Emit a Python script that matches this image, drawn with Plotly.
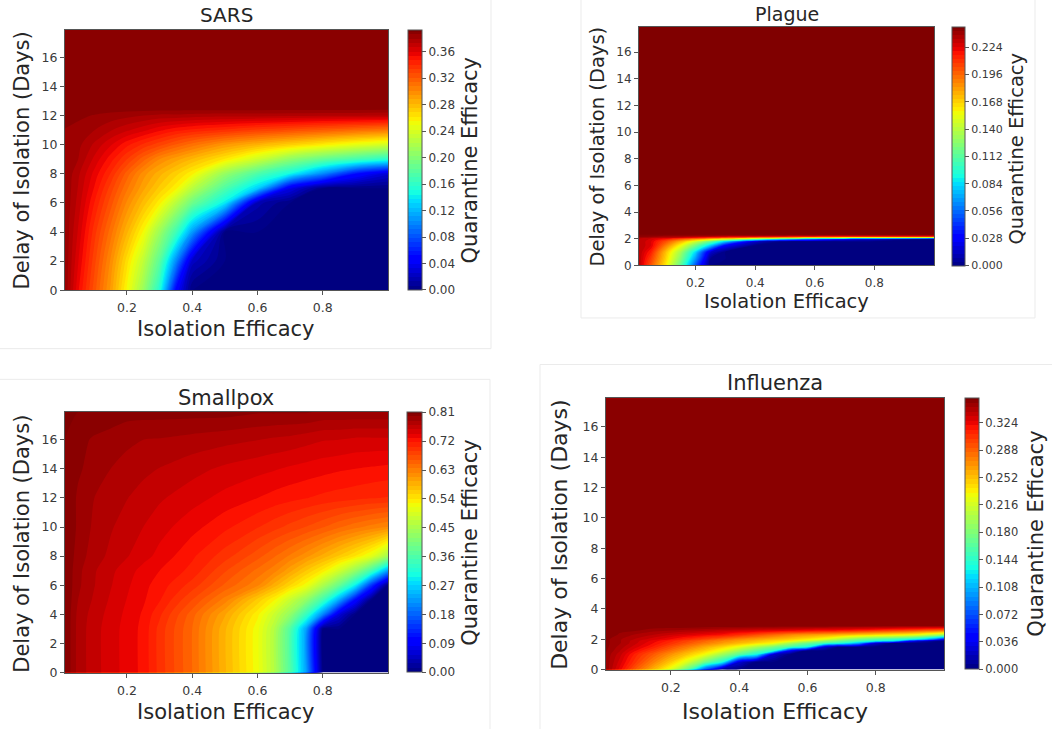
import plotly.graph_objects as go

W, H = 1052, 736

# ------------------------------------------------------------------ data
# Isolation efficacy (x) / delay of isolation in days (y) / quarantine efficacy (z)
sars_x = [0.01, 0.05, 0.1, 0.15, 0.2, 0.25, 0.3, 0.35, 0.4, 0.5, 0.6, 0.7, 0.8, 0.9, 1.0]
sars_y = [0, 2, 4, 6, 7, 8, 9, 10, 11, 12, 12.5, 14, 16, 17.9]
sars_z = [
    [0.386, 0.355, 0.324, 0.293, 0.254, 0.211, 0.154, 0.047, 0, 0, 0, 0, 0, 0, 0],
    [0.386, 0.361, 0.330, 0.300, 0.265, 0.229, 0.181, 0.103, 0.023, 0, 0, 0, 0, 0, 0],
    [0.386, 0.366, 0.337, 0.311, 0.283, 0.254, 0.212, 0.168, 0.109, 0, 0, 0, 0, 0, 0],
    [0.386, 0.371, 0.347, 0.324, 0.300, 0.279, 0.258, 0.225, 0.190, 0.140, 0.016, 0, 0, 0, 0],
    [0.386, 0.373, 0.353, 0.331, 0.309, 0.290, 0.273, 0.257, 0.226, 0.175, 0.129, 0.035, 0, 0, 0],
    [0.386, 0.375, 0.358, 0.340, 0.318, 0.298, 0.284, 0.271, 0.257, 0.209, 0.174, 0.145, 0.101, 0.053, 0.028],
    [0.386, 0.380, 0.365, 0.350, 0.334, 0.317, 0.301, 0.291, 0.281, 0.261, 0.235, 0.205, 0.185, 0.170, 0.156],
    [0.386, 0.382, 0.372, 0.361, 0.349, 0.339, 0.330, 0.320, 0.311, 0.295, 0.283, 0.271, 0.259, 0.247, 0.237],
    [0.386, 0.384, 0.380, 0.374, 0.368, 0.362, 0.355, 0.349, 0.345, 0.339, 0.332, 0.326, 0.320, 0.313, 0.307],
    [0.390, 0.388, 0.386, 0.384, 0.382, 0.380, 0.378, 0.378, 0.377, 0.376, 0.376, 0.375, 0.374, 0.374, 0.373],
    [0.39, 0.39, 0.39, 0.39, 0.39, 0.39, 0.39, 0.39, 0.39, 0.39, 0.39, 0.39, 0.39, 0.39, 0.39],
    [0.39, 0.39, 0.39, 0.39, 0.39, 0.39, 0.39, 0.39, 0.39, 0.39, 0.39, 0.39, 0.39, 0.39, 0.39],
    [0.39, 0.39, 0.39, 0.39, 0.39, 0.39, 0.39, 0.39, 0.39, 0.39, 0.39, 0.39, 0.39, 0.39, 0.39],
    [0.39, 0.39, 0.39, 0.39, 0.39, 0.39, 0.39, 0.39, 0.39, 0.39, 0.39, 0.39, 0.39, 0.39, 0.39],
]
sars_ticks = [0.00, 0.04, 0.08, 0.12, 0.16, 0.20, 0.24, 0.28, 0.32, 0.36]

plague_x = [0.01, 0.05, 0.1, 0.15, 0.2, 0.25, 0.3, 0.4, 0.5, 0.6, 0.8, 1.0]
plague_y = [0, 0.5, 1, 1.5, 1.8, 2.0, 2.1, 2.2, 2.3, 17.9]
plague_z = [
    [0.233, 0.201, 0.162, 0.113, 0.050, 0, 0, 0, 0, 0, 0, 0],
    [0.233, 0.208, 0.168, 0.124, 0.067, 0.003, 0, 0, 0, 0, 0, 0],
    [0.233, 0.216, 0.173, 0.134, 0.083, 0.017, 0, 0, 0, 0, 0, 0],
    [0.233, 0.225, 0.191, 0.157, 0.120, 0.080, 0.028, 0, 0, 0, 0, 0],
    [0.233, 0.225, 0.203, 0.177, 0.147, 0.116, 0.080, 0.016, 0, 0, 0, 0],
    [0.233, 0.228, 0.218, 0.203, 0.189, 0.174, 0.159, 0.123, 0.088, 0.059, 0.020, 0],
    [0.238, 0.235, 0.233, 0.228, 0.221, 0.213, 0.206, 0.191, 0.176, 0.162, 0.147, 0.135],
    [0.243, 0.243, 0.240, 0.240, 0.238, 0.238, 0.235, 0.233, 0.230, 0.228, 0.225, 0.223],
    [0.245, 0.245, 0.245, 0.245, 0.245, 0.245, 0.245, 0.245, 0.245, 0.245, 0.245, 0.245],
    [0.245, 0.245, 0.245, 0.245, 0.245, 0.245, 0.245, 0.245, 0.245, 0.245, 0.245, 0.245],
]
plague_ticks = [0.000, 0.028, 0.056, 0.084, 0.112, 0.140, 0.168, 0.196, 0.224]

smallpox_x = [0.01, 0.05, 0.1, 0.15, 0.2, 0.25, 0.3, 0.4, 0.5, 0.6, 0.65, 0.7, 0.75, 0.8, 0.85, 0.9, 0.95, 1.0]
smallpox_y = [0, 3, 4, 5, 6, 7, 8, 10, 12, 14, 16, 17.9]
smallpox_z = [
    [0.81, 0.778, 0.761, 0.749, 0.737, 0.725, 0.697, 0.648, 0.583, 0.518, 0.462, 0.365, 0.227, 0, 0, 0, 0, 0],
    [0.81, 0.778, 0.761, 0.749, 0.737, 0.725, 0.697, 0.648, 0.583, 0.518, 0.462, 0.365, 0.227, 0, 0, 0, 0, 0],
    [0.81, 0.779, 0.763, 0.751, 0.739, 0.727, 0.705, 0.654, 0.596, 0.531, 0.484, 0.428, 0.337, 0.210, 0.063, 0, 0, 0],
    [0.81, 0.783, 0.767, 0.754, 0.742, 0.731, 0.717, 0.675, 0.629, 0.563, 0.529, 0.480, 0.427, 0.348, 0.237, 0.103, 0, 0],
    [0.81, 0.786, 0.770, 0.757, 0.745, 0.733, 0.723, 0.696, 0.659, 0.624, 0.589, 0.553, 0.518, 0.455, 0.386, 0.292, 0.138, 0],
    [0.81, 0.787, 0.771, 0.759, 0.749, 0.737, 0.729, 0.711, 0.677, 0.644, 0.627, 0.598, 0.566, 0.535, 0.488, 0.429, 0.348, 0.227],
    [0.81, 0.790, 0.776, 0.766, 0.757, 0.748, 0.738, 0.718, 0.695, 0.667, 0.650, 0.632, 0.612, 0.589, 0.565, 0.539, 0.506, 0.443],
    [0.81, 0.794, 0.780, 0.771, 0.763, 0.756, 0.748, 0.734, 0.719, 0.703, 0.694, 0.684, 0.674, 0.663, 0.650, 0.639, 0.629, 0.620],
    [0.81, 0.794, 0.783, 0.776, 0.770, 0.764, 0.758, 0.748, 0.738, 0.729, 0.724, 0.720, 0.716, 0.712, 0.709, 0.706, 0.703, 0.701],
    [0.81, 0.799, 0.790, 0.783, 0.778, 0.773, 0.769, 0.761, 0.753, 0.747, 0.744, 0.740, 0.737, 0.734, 0.731, 0.729, 0.727, 0.725],
    [0.81, 0.802, 0.794, 0.790, 0.786, 0.783, 0.782, 0.778, 0.774, 0.770, 0.767, 0.765, 0.761, 0.757, 0.756, 0.753, 0.753, 0.753],
    [0.81, 0.81, 0.81, 0.806, 0.802, 0.802, 0.802, 0.802, 0.802, 0.798, 0.798, 0.798, 0.798, 0.794, 0.794, 0.794, 0.794, 0.794],
]
smallpox_ticks = [0.00, 0.09, 0.18, 0.27, 0.36, 0.45, 0.54, 0.63, 0.72, 0.81]

flu_x = [0.01, 0.05, 0.1, 0.15, 0.2, 0.25, 0.3, 0.35, 0.4, 0.45, 0.5, 0.55, 0.6, 0.65, 0.7, 0.75,
         0.8, 0.85, 0.9, 0.95, 1.0]
flu_y = [0, 0.5, 1, 1.25, 1.5, 1.75, 1.9, 2, 2.3, 2.6, 2.9, 17.9]
flu_z = [
    [0.349, 0.324, 0.288, 0.256, 0.221, 0.166, 0.071, 0, 0, 0, 0, 0, 0, 0, 0, 0, 0, 0, 0, 0, 0],
    [0.349, 0.330, 0.302, 0.275, 0.248, 0.217, 0.174, 0.136, 0.026, 0, 0, 0, 0, 0, 0, 0, 0, 0, 0, 0, 0],
    [0.349, 0.335, 0.310, 0.290, 0.269, 0.249, 0.227, 0.194, 0.163, 0.134, 0.024, 0, 0, 0, 0, 0, 0, 0, 0, 0, 0],
    [0.351, 0.339, 0.320, 0.302, 0.283, 0.264, 0.245, 0.224, 0.194, 0.167, 0.143, 0.039, 0, 0, 0, 0, 0, 0, 0, 0, 0],
    [0.352, 0.342, 0.328, 0.313, 0.295, 0.278, 0.261, 0.244, 0.225, 0.200, 0.176, 0.156, 0.135, 0.027, 0, 0, 0, 0, 0, 0, 0],
    [0.352, 0.345, 0.333, 0.320, 0.307, 0.293, 0.279, 0.266, 0.255, 0.243, 0.231, 0.198, 0.172, 0.157, 0.141, 0.106, 0.026, 0, 0, 0, 0],
    [0.352, 0.345, 0.334, 0.324, 0.312, 0.299, 0.287, 0.274, 0.264, 0.254, 0.244, 0.234, 0.214, 0.190, 0.171, 0.157, 0.143, 0.130, 0.054, 0.017, 0],
    [0.352, 0.345, 0.337, 0.329, 0.320, 0.310, 0.298, 0.286, 0.274, 0.265, 0.256, 0.247, 0.237, 0.223, 0.197, 0.175, 0.162, 0.149, 0.136, 0.105, 0.043],
    [0.356, 0.349, 0.343, 0.338, 0.333, 0.328, 0.323, 0.318, 0.308, 0.297, 0.286, 0.274, 0.268, 0.262, 0.256, 0.250, 0.243, 0.237, 0.230, 0.214, 0.196],
    [0.356, 0.352, 0.351, 0.347, 0.345, 0.343, 0.340, 0.337, 0.335, 0.332, 0.330, 0.327, 0.324, 0.322, 0.319, 0.315, 0.310, 0.304, 0.299, 0.292, 0.285],
    [0.356, 0.356, 0.356, 0.356, 0.356, 0.356, 0.356, 0.356, 0.356, 0.356, 0.356, 0.356, 0.356, 0.356, 0.356, 0.356, 0.356, 0.356, 0.356, 0.356, 0.356],
    [0.356, 0.356, 0.356, 0.356, 0.356, 0.356, 0.356, 0.356, 0.356, 0.356, 0.356, 0.356, 0.356, 0.356, 0.356, 0.356, 0.356, 0.356, 0.356, 0.356, 0.356],
]
flu_ticks = [0.000, 0.036, 0.072, 0.108, 0.144, 0.180, 0.216, 0.252, 0.288, 0.324]

titles = ["SARS", "Plague", "Smallpox", "Influenza"]
x_ticks = [0.2, 0.4, 0.6, 0.8]
y_ticks = [0, 2, 4, 6, 8, 10, 12, 14, 16]
x_label = "Isolation Efficacy"
y_label = "Delay of Isolation (Days)"
cb_label = "Quarantine Efficacy"

# matplotlib "jet"
JET = [
    [0.0, "rgb(0,0,128)"], [0.11, "rgb(0,0,255)"], [0.125, "rgb(0,0,255)"],
    [0.34, "rgb(0,219,255)"], [0.35, "rgb(0,229,247)"], [0.375, "rgb(21,255,226)"],
    [0.5, "rgb(123,255,123)"], [0.64, "rgb(239,255,8)"], [0.65, "rgb(247,245,0)"],
    [0.66, "rgb(255,236,0)"], [0.89, "rgb(255,19,0)"], [0.91, "rgb(232,0,0)"],
    [1.0, "rgb(128,0,0)"],
]

FONT = "DejaVu Sans"
TXT = "#262626"

# geometry in pixels: plot box (left, right, top, bottom), colorbar (left, width)
panels = [
    dict(x=sars_x, y=sars_y, z=sars_z, zmax=0.393, ticks=sars_ticks, fmt=".2f", smooth=1.0,
         box=(65, 388, 30, 293), cb=(408, 14), title=(226, 15, 20),
         xl=(226, 332, 21), yl=(22, 162, 21), cbl=(470, 162, 21), tf=12.5, cbf=12),
    dict(x=plague_x, y=plague_y, z=plague_z, zmax=0.245, ticks=plague_ticks, fmt=".3f", smooth=1.0,
         box=(639, 934, 27, 268), cb=(952, 13), title=(787, 14, 19),
         xl=(786, 304, 19.5), yl=(598, 148, 19.5), cbl=(1017, 150, 19.5), tf=12, cbf=11),
    dict(x=smallpox_x, y=smallpox_y, z=smallpox_z, zmax=0.81, ticks=smallpox_ticks, fmt=".2f", smooth=0.6,
         box=(65, 388, 416, 679), cb=(407, 15), title=(226, 402, 21),
         xl=(226, 719, 21), yl=(22, 549, 21), cbl=(470, 548, 21), tf=12.5, cbf=12),
    dict(x=flu_x, y=flu_y, z=flu_z, zmax=0.356, ticks=flu_ticks, fmt=".3f", smooth=1.0,
         box=(606, 944, 402, 676), cb=(965, 14), title=(775, 387, 21),
         xl=(775, 718, 22), yl=(560, 540, 22), cbl=(1036, 539, 21), tf=12.5, cbf=11.5),
]

fig = go.Figure()
annotations = []
layout_axes = {}

for i, p in enumerate(panels):
    n = "" if i == 0 else str(i + 1)
    l, r, t, b = p["box"]
    xd = [l / W, r / W]
    yd = [1 - b / H, 1 - t / H]
    cbl, cbw = p["cb"]
    fig.add_trace(go.Contour(
        x=p["x"], y=p["y"], z=p["z"], zmin=0, zmax=p["zmax"],
        colorscale=JET, autocontour=False,
        contours=dict(coloring="fill", start=0, end=p["zmax"], size=p["zmax"] / 60,
                      showlines=False),
        line=dict(width=0, smoothing=p["smooth"]),
        xaxis="x" + n, yaxis="y" + n,
        colorbar=dict(
            x=cbl / W, xanchor="left", xref="paper",
            y=(yd[0] + yd[1]) / 2, yanchor="middle", yref="paper",
            len=yd[1] - yd[0], lenmode="fraction",
            thickness=cbw, thicknessmode="pixels", xpad=0, ypad=0,
            outlinewidth=1, outlinecolor="#555",
            ticks="outside", ticklen=4, tickwidth=1, tickcolor="#555",
            tickvals=p["ticks"], tickformat=p["fmt"],
            tickfont=dict(family=FONT, size=p["cbf"], color="#3a3a3a"),
        ),
        hoverinfo="skip",
    ))
    axcommon = dict(showgrid=False, zeroline=False, showline=True, mirror=True,
                    linecolor="#555", linewidth=1, ticks="outside", ticklen=4,
                    tickwidth=1, tickcolor="#555",
                    tickfont=dict(family=FONT, size=p["tf"], color="#3a3a3a"))
    layout_axes["xaxis" + n] = dict(domain=xd, anchor="y" + n, range=[0.01, 1.0],
                                    tickvals=x_ticks, ticktext=[f"{v:.1f}" for v in x_ticks],
                                    ticklabelstandoff=2, **axcommon)
    layout_axes["yaxis" + n] = dict(domain=yd, anchor="x" + n, range=[0, 17.9],
                                    tickvals=y_ticks, **axcommon)
    tx, ty, ts = p["title"]
    annotations.append(dict(text=titles[i], x=tx / W, y=1 - ty / H, xref="paper", yref="paper",
                            xanchor="center", yanchor="middle", showarrow=False,
                            font=dict(family=FONT, size=ts, color=TXT)))
    ax_, ay_, as_ = p["xl"]
    annotations.append(dict(text=x_label, x=ax_ / W, y=1 - ay_ / H, xref="paper", yref="paper",
                            xanchor="center", yanchor="middle", showarrow=False, borderpad=0,
                            font=dict(family=FONT, size=as_, color=TXT)))
    bx, by, bs = p["yl"]
    annotations.append(dict(text=y_label, x=bx / W, y=1 - by / H, xref="paper", yref="paper",
                            xanchor="center", yanchor="middle", showarrow=False, textangle=-90,
                            font=dict(family=FONT, size=bs, color=TXT)))
    cx, cy, cs = p["cbl"]
    annotations.append(dict(text=cb_label, x=cx / W, y=1 - cy / H, xref="paper", yref="paper",
                            xanchor="center", yanchor="middle", showarrow=False, textangle=-90,
                            borderpad=0,
                            font=dict(family=FONT, size=cs, color=TXT)))

# faint frames of the pasted sub-figures
frame = "#ebebeb"
shapes = []
for (x0, y0, x1, y1) in [(491, 0, 491, 352), (0, 352, 491, 352),
                         (581, 0, 581, 321), (581, 321, 1035, 321), (1035, 0, 1035, 321),
                         (0, 383, 490, 383), (490, 383, 490, 736),
                         (540, 368, 1052, 368), (540, 368, 540, 736)]:
    shapes.append(dict(type="line", xref="paper", yref="paper",
                       x0=x0 / W, x1=x1 / W, y0=1 - y0 / H, y1=1 - y1 / H,
                       line=dict(color=frame, width=1), layer="below"))

fig.update_layout(
    width=W, height=H, margin=dict(l=0, r=0, t=0, b=0),
    paper_bgcolor="white", plot_bgcolor="white",
    showlegend=False, annotations=annotations, shapes=shapes,
    font=dict(family=FONT, color=TXT),
    **layout_axes,
)

fig.write_html("out.html", config={"displayModeBar": False},
               post_script="document.body.style.margin='0';")
